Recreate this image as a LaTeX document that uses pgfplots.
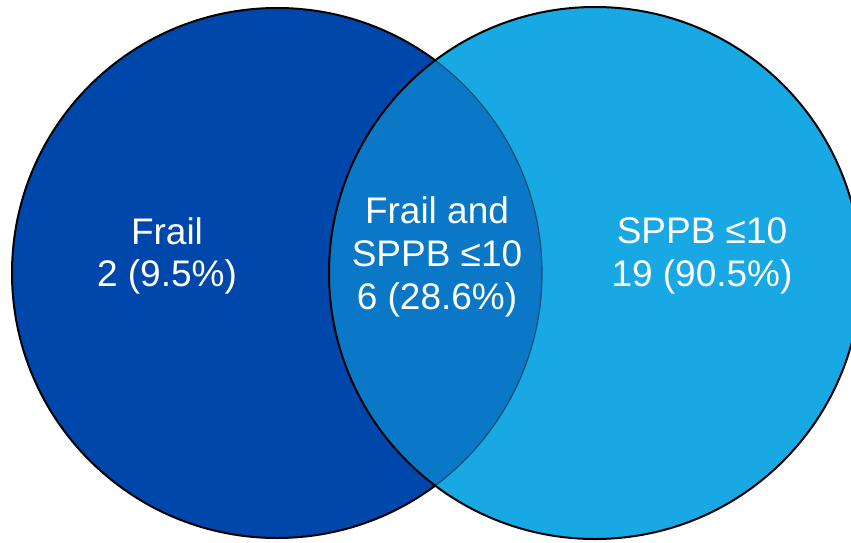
\documentclass[border=0pt]{standalone}
\usepackage{fontspec}
\setmainfont{Liberation Sans}
\usepackage{pgfplots}
\pgfplotsset{compat=1.18}

\definecolor{frailblue}{RGB}{0,71,171}
\definecolor{sppbblue}{RGB}{24,168,227}
\definecolor{bothblue}{RGB}{11,120,199}
\definecolor{edgefaint}{RGB}{18,78,120}

\begin{document}
\begin{tikzpicture}
\begin{axis}[
  scale only axis,
  width=425.5pt, height=271pt,
  xmin=0, xmax=851, ymin=0, ymax=542,
  hide axis,
  clip=true,
]
  % invisible frame to fix the drawing area
  \path (axis cs:0,0) rectangle (axis cs:851,542);
  % Frail set
  \fill[frailblue] (axis cs:277,269) circle[radius=265];
  \draw[black, line width=1pt] (axis cs:277,269) circle[radius=265];
  % SPPB <= 10 set
  \fill[sppbblue] (axis cs:595,269) circle[radius=266];
  % overlap of the two sets
  \begin{scope}
    \clip (axis cs:277,269) circle[radius=265];
    \fill[bothblue] (axis cs:595,269) circle[radius=266];
  \end{scope}
  % faint edge of the Frail set inside the overlap
  \begin{scope}
    \clip (axis cs:595,269) circle[radius=266];
    \draw[edgefaint, line width=0.6pt] (axis cs:277,269) circle[radius=265];
  \end{scope}
  \draw[black, line width=1pt] (axis cs:595,269) circle[radius=266];

  % labels
  \node[text=white, align=center, font=\fontsize{18.5}{21.4}\selectfont]
    at (axis cs:167,286) {Frail\\2 (9.5\%)};
  \node[text=white, align=center, font=\fontsize{18.5}{21.4}\selectfont]
    at (axis cs:437,285) {Frail and\\SPPB ≤10\\6 (28.6\%)};
  \node[text=white, align=center, font=\fontsize{18.5}{21.4}\selectfont]
    at (axis cs:702,286) {SPPB ≤10\\19 (90.5\%)};
\end{axis}
\end{tikzpicture}
\end{document}
